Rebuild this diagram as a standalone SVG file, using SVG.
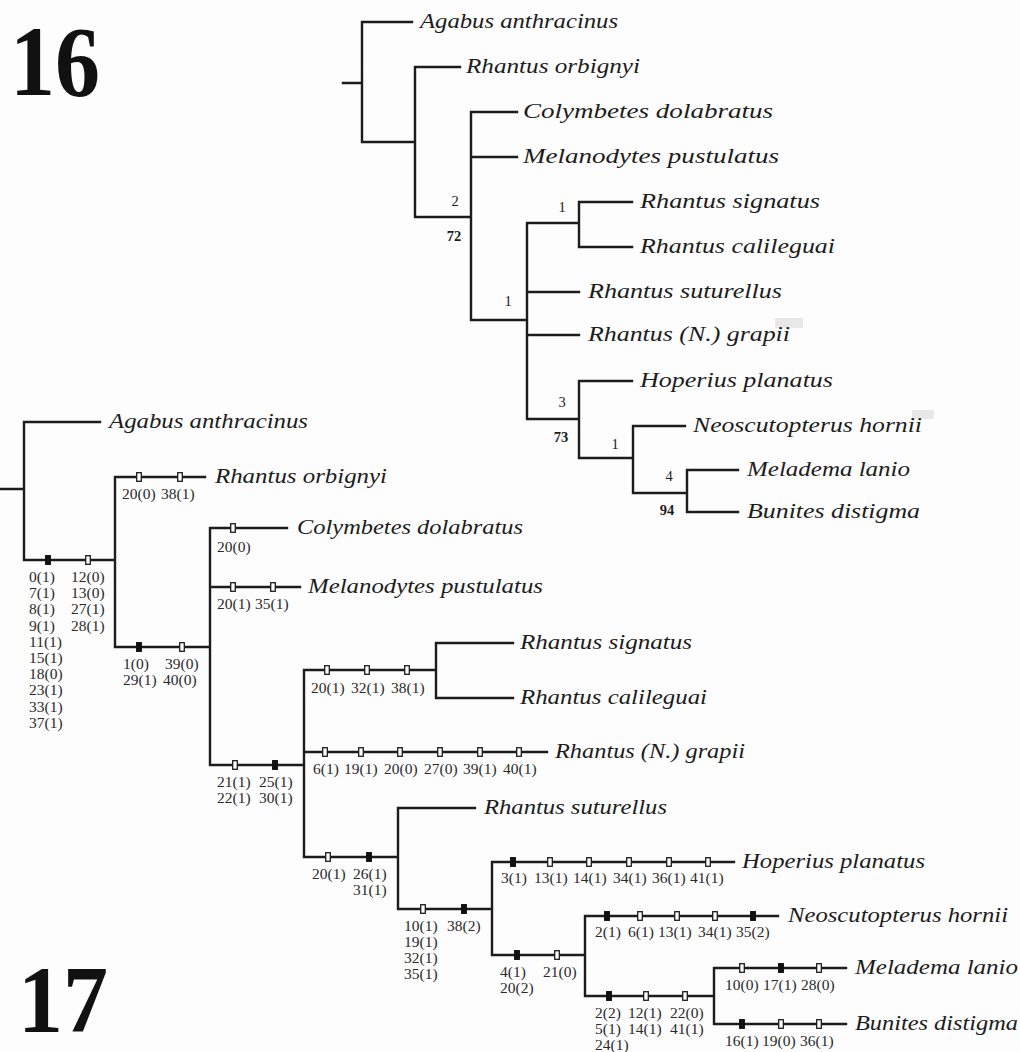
<svg xmlns="http://www.w3.org/2000/svg" xmlns:xlink="http://www.w3.org/1999/xlink" width="1020" height="1052" viewBox="0 0 1020 1052">
<style>
.br{fill:none;stroke:#1c1c1c;stroke-width:2.4;stroke-linecap:square}
.tx{font-family:"Liberation Serif","Times New Roman",serif;font-style:italic;font-size:20px;fill:#1c1c1c}
.ch{font-family:"Liberation Serif","Times New Roman",serif;font-size:15.5px;fill:#2a2a2a}
.sp{font-family:"Liberation Serif","Times New Roman",serif;font-size:14.5px;fill:#1c1c1c;text-anchor:middle}
.bs{font-weight:bold}
.big{font-family:"Liberation Serif","Times New Roman",serif;font-weight:bold;fill:#111}
.mo{fill:#fff;stroke:#1c1c1c;stroke-width:1.3}
.mf{fill:#111;stroke:#111;stroke-width:1.3}
.art{fill:#e8e8e8}
</style>
<defs>
<rect id="o" class="mo" x="-2.3" y="-4.3" width="4.6" height="8.6"/>
<rect id="f" class="mf" x="-2.3" y="-4.3" width="4.6" height="8.6"/>
</defs>
<rect width="1020" height="1052" fill="#fdfdfd"/>
<rect class="art" x="775" y="318" width="28" height="10"/>
<rect class="art" x="912" y="410" width="22" height="9"/>
<text class="big" x="10" y="95" font-size="100" textLength="90" lengthAdjust="spacingAndGlyphs">16</text>
<text class="big" x="18" y="1032" font-size="95" textLength="90" lengthAdjust="spacingAndGlyphs">17</text>

<g id="connectors">
<path class="br" d="M343,83H362M362,22V142M362,22H412M362,142H415M415,67V217M415,67H460M415,217H471M471,112V320M471,112H517M471,157H517M471,320H527M527,223V419M527,223H579M527,292H579M527,335H579M527,419H579M579,202V247M579,202H632M579,247H632M579,381V458M579,381H632M579,458H633M633,426V493M633,426H685M633,493H687M687,470V512M687,470H738M687,512H738"/>
<path class="br" d="M0,489H24M24,422V560M24,422H100M24,560H115M115,477V647M115,477H205M115,647H210M210,528V765M210,528H287M210,587H300M210,765H304M304,670V857M304,670H436M304,752H547M304,857H398M436,643V698M436,643H513M436,698H513M398,808V909M398,808H475M398,909H492M492,862V955M492,862H734M492,955H585M585,916V996M585,916H778M585,996H714M714,968V1024M714,968H846M714,1024H846"/>
<g id="steps">
<use xlink:href="#f" x="48" y="560"/><use xlink:href="#o" x="88" y="560"/>
<use xlink:href="#o" x="139" y="477"/><use xlink:href="#o" x="180" y="477"/>
<use xlink:href="#f" x="139" y="647"/><use xlink:href="#o" x="182" y="647"/>
<use xlink:href="#o" x="233" y="528"/>
<use xlink:href="#o" x="233" y="587"/><use xlink:href="#o" x="273" y="587"/>
<use xlink:href="#o" x="235" y="765"/><use xlink:href="#f" x="275" y="765"/>
<use xlink:href="#o" x="327" y="670"/><use xlink:href="#o" x="367" y="670"/><use xlink:href="#o" x="407" y="670"/>
<use xlink:href="#o" x="325" y="752"/><use xlink:href="#o" x="361" y="752"/><use xlink:href="#o" x="400" y="752"/><use xlink:href="#o" x="440" y="752"/><use xlink:href="#o" x="480" y="752"/><use xlink:href="#o" x="519" y="752"/>
<use xlink:href="#o" x="328" y="857"/><use xlink:href="#f" x="369" y="857"/>
<use xlink:href="#o" x="423" y="909"/><use xlink:href="#f" x="464" y="909"/>
<use xlink:href="#f" x="513" y="862"/><use xlink:href="#o" x="550" y="862"/><use xlink:href="#o" x="589" y="862"/><use xlink:href="#o" x="629" y="862"/><use xlink:href="#o" x="669" y="862"/><use xlink:href="#o" x="708" y="862"/>
<use xlink:href="#f" x="517" y="955"/><use xlink:href="#o" x="557" y="955"/>
<use xlink:href="#f" x="607" y="916"/><use xlink:href="#o" x="640" y="916"/><use xlink:href="#o" x="677" y="916"/><use xlink:href="#o" x="715" y="916"/><use xlink:href="#f" x="753" y="916"/>
<use xlink:href="#f" x="609" y="996"/><use xlink:href="#o" x="646" y="996"/><use xlink:href="#o" x="685" y="996"/>
<use xlink:href="#o" x="742" y="968"/><use xlink:href="#f" x="781" y="968"/><use xlink:href="#o" x="819" y="968"/>
<use xlink:href="#f" x="742" y="1024"/><use xlink:href="#o" x="781" y="1024"/><use xlink:href="#o" x="819" y="1024"/>
</g>
</g>

<g id="support16">
<text class="sp" x="455" y="206">2</text><text class="sp bs" x="454" y="241">72</text>
<text class="sp" x="562" y="212">1</text>
<text class="sp" x="508" y="306">1</text>
<text class="sp" x="562" y="407">3</text><text class="sp bs" x="561" y="442">73</text>
<text class="sp" x="615" y="449">1</text>
<text class="sp" x="669" y="481">4</text><text class="sp bs" x="667" y="515">94</text>
</g>

<g id="tree16-taxa">
<g id="t16-agabus"><text class="tx" x="420" y="28" textLength="198" lengthAdjust="spacingAndGlyphs">Agabus anthracinus</text></g>
<g id="t16-orbignyi"><text class="tx" x="466" y="73" textLength="174" lengthAdjust="spacingAndGlyphs">Rhantus orbignyi</text></g>
<g id="t16-colymbetes"><text class="tx" x="523" y="118" textLength="250" lengthAdjust="spacingAndGlyphs">Colymbetes dolabratus</text></g>
<g id="t16-melanodytes"><text class="tx" x="523" y="163" textLength="256" lengthAdjust="spacingAndGlyphs">Melanodytes pustulatus</text></g>
<g id="t16-signatus"><text class="tx" x="640" y="208" textLength="180" lengthAdjust="spacingAndGlyphs">Rhantus signatus</text></g>
<g id="t16-calileguai"><text class="tx" x="640" y="253" textLength="195" lengthAdjust="spacingAndGlyphs">Rhantus calileguai</text></g>
<g id="t16-suturellus"><text class="tx" x="588" y="298" textLength="194" lengthAdjust="spacingAndGlyphs">Rhantus suturellus</text></g>
<g id="t16-grapii"><text class="tx" x="588" y="341" textLength="202" lengthAdjust="spacingAndGlyphs">Rhantus (N.) grapii</text></g>
<g id="t16-hoperius"><text class="tx" x="640" y="387" textLength="193" lengthAdjust="spacingAndGlyphs">Hoperius planatus</text></g>
<g id="t16-neoscutopterus"><text class="tx" x="693" y="432" textLength="229" lengthAdjust="spacingAndGlyphs">Neoscutopterus hornii</text></g>
<g id="t16-meladema"><text class="tx" x="747" y="476" textLength="163" lengthAdjust="spacingAndGlyphs">Meladema lanio</text></g>
<g id="t16-bunites"><text class="tx" x="747" y="518" textLength="173" lengthAdjust="spacingAndGlyphs">Bunites distigma</text></g>
</g>

<g id="tree17-taxa">
<g id="t17-agabus"><text class="tx" x="109" y="428" textLength="199" lengthAdjust="spacingAndGlyphs">Agabus anthracinus</text></g>
<g id="t17-orbignyi"><text class="tx" x="215" y="483" textLength="172" lengthAdjust="spacingAndGlyphs">Rhantus orbignyi</text></g>
<g id="t17-colymbetes"><text class="tx" x="297" y="534" textLength="226" lengthAdjust="spacingAndGlyphs">Colymbetes dolabratus</text></g>
<g id="t17-melanodytes"><text class="tx" x="308" y="593" textLength="235" lengthAdjust="spacingAndGlyphs">Melanodytes pustulatus</text></g>
<g id="t17-signatus"><text class="tx" x="520" y="649" textLength="172" lengthAdjust="spacingAndGlyphs">Rhantus signatus</text></g>
<g id="t17-calileguai"><text class="tx" x="520" y="704" textLength="187" lengthAdjust="spacingAndGlyphs">Rhantus calileguai</text></g>
<g id="t17-grapii"><text class="tx" x="555" y="758" textLength="190" lengthAdjust="spacingAndGlyphs">Rhantus (N.) grapii</text></g>
<g id="t17-suturellus"><text class="tx" x="484" y="814" textLength="183" lengthAdjust="spacingAndGlyphs">Rhantus suturellus</text></g>
<g id="t17-hoperius"><text class="tx" x="742" y="868" textLength="183" lengthAdjust="spacingAndGlyphs">Hoperius planatus</text></g>
<g id="t17-neoscutopterus"><text class="tx" x="788" y="922" textLength="220" lengthAdjust="spacingAndGlyphs">Neoscutopterus hornii</text></g>
<g id="t17-meladema"><text class="tx" x="855" y="974" textLength="163" lengthAdjust="spacingAndGlyphs">Meladema lanio</text></g>
<g id="t17-bunites"><text class="tx" x="855" y="1030" textLength="163" lengthAdjust="spacingAndGlyphs">Bunites distigma</text></g>
</g>

<g id="characters17">
<text class="ch" x="29" y="582">0(1)</text><text class="ch" x="29" y="598">7(1)</text><text class="ch" x="29" y="614">8(1)</text><text class="ch" x="29" y="631">9(1)</text><text class="ch" x="29" y="647">11(1)</text><text class="ch" x="29" y="663">15(1)</text><text class="ch" x="29" y="679">18(0)</text><text class="ch" x="29" y="695">23(1)</text><text class="ch" x="29" y="712">33(1)</text><text class="ch" x="29" y="728">37(1)</text>
<text class="ch" x="71" y="582">12(0)</text><text class="ch" x="71" y="598">13(0)</text><text class="ch" x="71" y="614">27(1)</text><text class="ch" x="71" y="631">28(1)</text>
<text class="ch" x="122" y="499">20(0)</text><text class="ch" x="161" y="499">38(1)</text>
<text class="ch" x="123" y="669">1(0)</text><text class="ch" x="123" y="685">29(1)</text><text class="ch" x="165" y="669">39(0)</text><text class="ch" x="163" y="685">40(0)</text>
<text class="ch" x="217" y="552">20(0)</text>
<text class="ch" x="217" y="609">20(1)</text><text class="ch" x="255" y="609">35(1)</text>
<text class="ch" x="217" y="787">21(1)</text><text class="ch" x="217" y="803">22(1)</text><text class="ch" x="259" y="787">25(1)</text><text class="ch" x="259" y="803">30(1)</text>
<text class="ch" x="311" y="693">20(1)</text><text class="ch" x="351" y="693">32(1)</text><text class="ch" x="391" y="693">38(1)</text>
<text class="ch" x="313" y="774">6(1)</text><text class="ch" x="344" y="774">19(1)</text><text class="ch" x="384" y="774">20(0)</text><text class="ch" x="424" y="774">27(0)</text><text class="ch" x="463" y="774">39(1)</text><text class="ch" x="503" y="774">40(1)</text>
<text class="ch" x="312" y="879">20(1)</text><text class="ch" x="353" y="879">26(1)</text><text class="ch" x="353" y="895">31(1)</text>
<text class="ch" x="404" y="931">10(1)</text><text class="ch" x="404" y="947">19(1)</text><text class="ch" x="404" y="963">32(1)</text><text class="ch" x="404" y="979">35(1)</text><text class="ch" x="447" y="931">38(2)</text>
<text class="ch" x="501" y="883">3(1)</text><text class="ch" x="534" y="883">13(1)</text><text class="ch" x="573" y="883">14(1)</text><text class="ch" x="613" y="883">34(1)</text><text class="ch" x="652" y="883">36(1)</text><text class="ch" x="690" y="883">41(1)</text>
<text class="ch" x="595" y="937">2(1)</text><text class="ch" x="628" y="937">6(1)</text><text class="ch" x="658" y="937">13(1)</text><text class="ch" x="698" y="937">34(1)</text><text class="ch" x="736" y="937">35(2)</text>
<text class="ch" x="500" y="977">4(1)</text><text class="ch" x="500" y="993">20(2)</text><text class="ch" x="543" y="977">21(0)</text>
<text class="ch" x="595" y="1018">2(2)</text><text class="ch" x="595" y="1034">5(1)</text><text class="ch" x="595" y="1050">24(1)</text><text class="ch" x="628" y="1018">12(1)</text><text class="ch" x="628" y="1034">14(1)</text><text class="ch" x="670" y="1018">22(0)</text><text class="ch" x="670" y="1034">41(1)</text>
<text class="ch" x="725" y="990">10(0)</text><text class="ch" x="763" y="990">17(1)</text><text class="ch" x="801" y="990">28(0)</text>
<text class="ch" x="725" y="1046">16(1)</text><text class="ch" x="762" y="1046">19(0)</text><text class="ch" x="800" y="1046">36(1)</text>
</g>
</svg>
